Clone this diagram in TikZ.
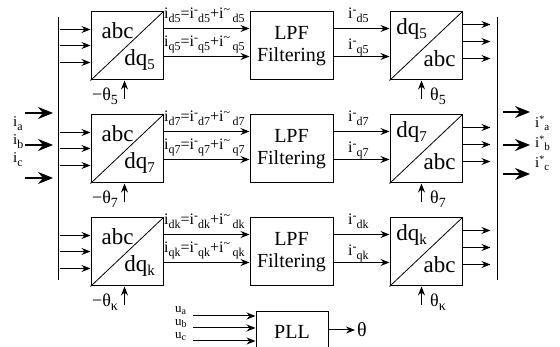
\documentclass[tikz,border=0pt]{standalone}
\usepackage{fontspec}
\setmainfont{Liberation Serif}
\usetikzlibrary{arrows.meta}
\newcommand{\lo}[2][11]{\raisebox{-4pt}{\fontsize{#1}{#1}\selectfont #2}}
\newcommand{\hi}[2][11]{\raisebox{5pt}{\fontsize{#1}{#1}\selectfont #2}}
\newcommand{\fs}[1]{\fontsize{#1}{#1}\selectfont}
\newcommand{\istar}[1]{i\raisebox{5pt}{\fs{10}*}\raisebox{-3pt}{\fs{11}#1}}
\newcommand{\usub}[1]{u\raisebox{-2pt}{\fs{10}#1}}
\begin{document}
\begin{tikzpicture}[x=1pt,y=-1pt,
  box/.style={draw,line width=1pt,minimum height=68pt,inner sep=0pt},
  arr/.style={-{Stealth[length=9pt,width=7pt,inset=3pt]},line width=1pt},
  bigarr/.style={-{Stealth[length=15pt,width=12pt,inset=5pt]},line width=1.1pt},
  lab/.style={inner sep=0pt,anchor=base west,font=\fs{16}},
  boxtxt/.style={inner sep=0pt,font=\fs{23}}]
\useasboundingbox (0,0) rectangle (560,347);
% bars
\coordinate (lt) at (58,17); \coordinate (lb) at (58,280);
\coordinate (rt) at (497,17); \coordinate (rb) at (497,280);
\draw[line width=1pt] (lt) -- (lb);
\draw[line width=1pt] (rt) -- (rb);
\foreach \r/\n/\t in {0/5/5,1/7/7,2/k/κ}{
  \node[box,minimum width=72pt] (A\r) at (127,{46+103*\r}) {};
  \node[box,minimum width=83pt,align=center,font=\fs{20}] (L\r) at (291.5,{46+103*\r}) {LPF\\[2pt]Filtering};
  \node[box,minimum width=72pt] (B\r) at (426,{46+103*\r}) {};
  \draw[line width=0.8pt] (A\r.south west) -- (A\r.north east);
  \draw[line width=0.8pt] (B\r.south west) -- (B\r.north east);
  \node[boxtxt] (a\r) at ([xshift=27pt,yshift=-19pt]A\r.north west) {abc};
  \node[boxtxt] (d\r) at ([xshift=49pt,yshift=-48pt]A\r.north west) {dq\lo[15]{\n}};
  \node[boxtxt] (e\r) at ([xshift=22pt,yshift=-17pt]B\r.north west) {dq\lo[15]{\n}};
  \node[boxtxt] (f\r) at ([xshift=50pt,yshift=-47pt]B\r.north west) {abc};
  \foreach \y in {18,34,51}{
    \draw[arr] ([xshift=-31pt,yshift=-\y pt]A\r.north west) -- ([yshift=-\y pt]A\r.north west);
  }
  \foreach \y in {13,30,47}{
    \draw[arr] ([yshift=-\y pt]B\r.north east) -- ([xshift=28pt,yshift=-\y pt]B\r.north east);
  }
  \draw[arr] ([yshift=-17pt]A\r.north east) -- ([yshift=-17pt]L\r.north west);
  \draw[arr] ([yshift=-45pt]A\r.north east) -- ([yshift=-45pt]L\r.north west);
  \draw[arr] ([yshift=-17pt]L\r.north east) -- ([yshift=-17pt]B\r.north west);
  \draw[arr] ([yshift=-45pt]L\r.north east) -- ([yshift=-45pt]B\r.north west);
  \node[lab] (p\r) at (164,{19+103*\r}) {i\lo[12]{d\n}=i\hi[12]{-}\lo[12]{d\n}+i\hi[12]{\textasciitilde}\,\lo[12]{d\n}};
  \node[lab] (q\r) at (164,{47+103*\r}) {i\lo[12]{q\n}=i\hi[12]{-}\lo[12]{q\n}+i\hi[12]{\textasciitilde}\,\lo[12]{q\n}};
  \node[lab] (s\r) at (348,{19+103*\r}) {i\hi[12]{-}\lo[12]{d\n}};
  \node[lab] (t\r) at (348,{50+103*\r}) {i\hi[12]{-}\lo[12]{q\n}};
  \coordinate (ta\r) at ([xshift=34pt,yshift=-19pt]A\r.south west);
  \coordinate (tb\r) at ([xshift=32pt,yshift=-19pt]B\r.south west);
  \draw[arr] (ta\r) -- (ta\r |- A\r.south);
  \draw[arr] (tb\r) -- (tb\r |- B\r.south);
  \node[lab] (u\r) at (92,{101+103*\r}) {\fs{18}−θ\lo[14]{\t}};
  \node[lab] (v\r) at (430,{101+103*\r}) {\fs{18}θ\lo[14]{\t}};
}
% inputs
\foreach \y/\c in {113/a,145/b,178/c}{
  \coordinate (in\c) at (25,\y); \coordinate (ie\c) at (53,\y);
  \draw[bigarr] (in\c) -- (ie\c);
}
\node[font=\fs{15},inner sep=0pt,anchor=north west,align=left] (il) at (13,116)
  {i\lo[12]{a}\\[3pt]i\lo[12]{b}\\[3pt]i\lo[12]{c}};
\foreach \y/\c in {112/a,145/b,174/c}{
  \coordinate (on\c) at (503,\y); \coordinate (oe\c) at (530,\y);
  \draw[bigarr] (on\c) -- (oe\c);
}
\node[font=\fs{15},inner sep=0pt,anchor=north west,align=left] (ol) at (535,116)
  {\istar{a}\\[5pt]\istar{b}\\[5pt]\istar{c}};
% PLL
\node[draw,line width=1pt,minimum width=72pt,minimum height=40pt,inner sep=0pt,font=\fs{20}] (P) at (292,332) {PLL};
\foreach \y/\c in {316/a,328/b,341/c}{
  \coordinate (uu\c) at (193,\y);
  \draw[arr] (uu\c) -- (uu\c -| P.west);
}
\node[font=\fs{13},inner sep=0pt,anchor=north west,align=left] (ul) at (175,306)
  {\usub{a}\\[0pt]\usub{b}\\[0pt]\usub{c}};
\coordinate (th) at (355,330);
\draw[arr] (P.east |- th) -- (th);
\node[font=\fs{20},inner sep=0pt,anchor=west] (thl) at (357,330) {θ};
\end{tikzpicture}
\end{document}
